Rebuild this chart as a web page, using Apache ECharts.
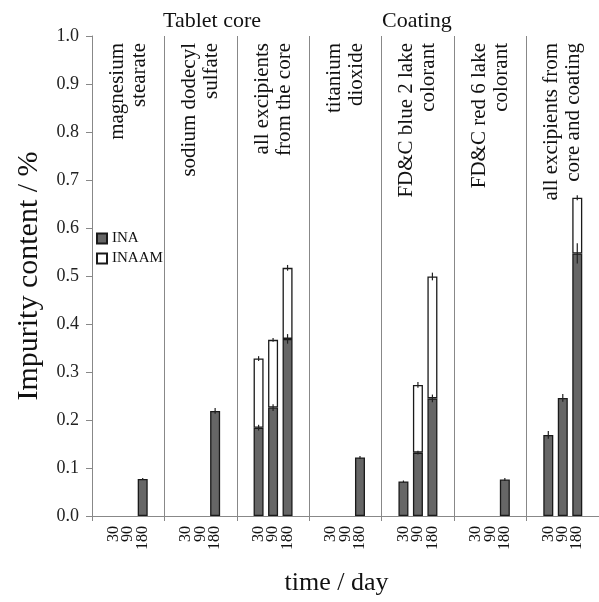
<!DOCTYPE html>
<html>
<head>
<meta charset="utf-8">
<script src="https://cdn.jsdelivr.net/npm/echarts@6/dist/echarts.min.js"></script>
<style>html,body{margin:0;padding:0;background:#fff}#c{width:599px;height:602px}</style>
</head>
<body>
<div id="c"></div>
<script>
const groups = ['magnesium\nstearate','sodium dodecyl\nsulfate','all excipients\nfrom the core','titanium\ndioxide','FD&C blue 2 lake\ncolorant','FD&C red 6 lake\ncolorant','all excipients from\ncore and coating'];
const sections = ['Tablet core','Coating'];
const times = ['30','90','180'];
const inaValues = [
  [null,null,0.077],
  [null,null,0.219],
  [0.184,0.226,0.369],
  [null,null,0.122],
  [0.072,0.132,0.245],
  [null,null,0.076],
  [0.169,0.246,0.547]
];
const inaamValues = [
  [null,null,null],
  [null,null,null],
  [0.144,0.141,0.148],
  [null,null,null],
  [null,0.141,0.254],
  [null,null,null],
  [null,null,0.116]
];
const inaErr = [
  [0,0,0.002],
  [0,0,0.006],
  [0.006,0.007,0.010],
  [0,0,0.003],
  [0.002,0.004,0.008],
  [0,0,0.003],
  [0.008,0.008,0.021]
];
const inaamErr = [
  [0,0,0],
  [0,0,0],
  [0.005,0.004,0.006],
  [0,0,0],
  [0,0.006,0.008],
  [0,0,0],
  [0,0,0.005]
];

const SLOTS = 5;
const cats = [];
const inaData = [];
const inaamData = [];
const errData = [];
groups.forEach((g, gi) => {
  for (let s = 0; s < SLOTS; s++) {
    const ti = s - 1;
    cats.push(gi + '|' + (ti >= 0 && ti < times.length ? times[ti] : ''));
    if (ti >= 0 && ti < times.length) {
      const a = inaValues[gi][ti];
      const b = inaamValues[gi][ti];
      inaData.push(a == null ? '-' : a);
      inaamData.push(b == null ? '-' : b);
      const idx = gi * SLOTS + s;
      if (a != null) errData.push([idx, a - inaErr[gi][ti], a + inaErr[gi][ti]]);
      if (a != null && b != null) errData.push([idx, a + b - inaamErr[gi][ti], a + b + inaamErr[gi][ti]]);
    } else {
      inaData.push('-');
      inaamData.push('-');
    }
  }
});

const FONT = '"Liberation Serif", "DejaVu Serif", serif';
const chart = echarts.init(document.getElementById('c'), null, {renderer: 'canvas'});
chart.setOption({
  animation: false,
  backgroundColor: '#fff',
  textStyle: {fontFamily: FONT},
  grid: {left: 92, right: -5, top: 36, bottom: 86, containLabel: false},
  legend: {
    data: ['INA', 'INAAM'],
    orient: 'vertical',
    left: 91, top: 226,
    icon: 'rect',
    itemWidth: 10, itemHeight: 10, itemGap: 5,
    textStyle: {fontFamily: FONT, fontSize: 15, color: '#111'}
  },
  graphic: [
    {type: 'text', left: 163, top: 10, style: {text: sections[0], fontFamily: FONT, fontSize: 22, fill: '#111'}},
    {type: 'text', left: 382, top: 10, style: {text: sections[1], fontFamily: FONT, fontSize: 22, fill: '#111'}}
  ],
  xAxis: [
    {
      type: 'category',
      data: cats,
      name: 'time / day',
      nameLocation: 'middle',
      nameGap: 54,
      nameTextStyle: {fontFamily: FONT, fontSize: 26, color: '#111', padding: [0, 18, 0, 0]},
      axisLine: {show: true, lineStyle: {color: '#888', width: 1}},
      axisTick: {show: true, length: 5, interval: (i) => i % SLOTS === 0, lineStyle: {color: '#888'}},
      splitLine: {show: true, interval: (i) => i % SLOTS === 0, lineStyle: {color: '#888', width: 1}},
      axisLabel: {
        interval: 0, rotate: 90, margin: 10,
        fontFamily: FONT, fontSize: 16, color: '#111',
        formatter: (v) => v.split('|')[1]
      }
    },
    {
      type: 'category',
      position: 'top',
      data: groups,
      axisLine: {show: false},
      axisTick: {show: false},
      splitLine: {show: false},
      axisLabel: {
        inside: true, interval: 0, rotate: -90, margin: 7,
        fontFamily: FONT, fontSize: 21, lineHeight: 22, color: '#111'
      }
    }
  ],
  yAxis: {
    type: 'value',
    min: 0, max: 1, interval: 0.1,
    name: 'Impurity content / %',
    nameLocation: 'middle',
    nameGap: 48,
    nameTextStyle: {fontFamily: FONT, fontSize: 30, color: '#111'},
    axisLine: {show: true, lineStyle: {color: '#888', width: 1}},
    axisTick: {show: true, length: 6, inside: false, lineStyle: {color: '#888'}},
    splitLine: {show: false},
    axisLabel: {margin: 13, fontFamily: FONT, fontSize: 18, color: '#222', formatter: (v) => v.toFixed(1)}
  },
  series: [
    {
      name: 'INA', type: 'bar', stack: 'imp', data: inaData, barWidth: 10,
      itemStyle: {color: '#666', borderColor: '#1a1a1a', borderWidth: 1.3}
    },
    {
      name: 'INAAM', type: 'bar', stack: 'imp', data: inaamData, barWidth: 10,
      itemStyle: {color: '#fff', borderColor: '#1a1a1a', borderWidth: 1.3}
    },
    {
      name: 'err', type: 'custom', data: errData,
      encode: {x: 0, y: [1, 2]},
      z: 5,
      renderItem: (params, api) => {
        const p1 = api.coord([api.value(0), api.value(1)]);
        const p2 = api.coord([api.value(0), api.value(2)]);
        return {type: 'line', shape: {x1: p1[0], y1: p1[1], x2: p2[0], y2: p2[1]}, style: {stroke: '#222', lineWidth: 1.2}};
      }
    }
  ]
});
</script>
</body>
</html>
